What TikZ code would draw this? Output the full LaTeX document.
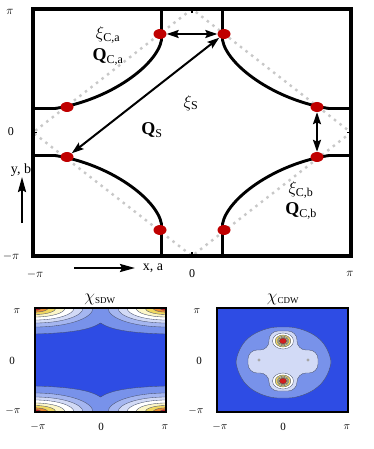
\documentclass[tikz,border=0pt]{standalone}
\usepackage{fontspec}
\setmainfont{Liberation Serif}
\usepackage{amsmath}
\usetikzlibrary{arrows.meta,shapes.geometric}
\definecolor{dotred}{RGB}{192,0,0}
\definecolor{diagray}{RGB}{200,200,200}
\definecolor{dkblue}{RGB}{46,76,228}
\definecolor{mdblue}{RGB}{120,146,234}
\definecolor{ltblue}{RGB}{165,182,240}
\definecolor{vlblue}{RGB}{210,218,246}
\definecolor{pyel}{RGB}{252,246,200}
\definecolor{yel}{RGB}{240,216,96}
\definecolor{ora}{RGB}{236,140,50}
\definecolor{cred}{RGB}{210,30,30}
\definecolor{cline}{RGB}{70,80,110}
\begin{document}
\begin{tikzpicture}[x=1pt,y=-1pt,
  frame/.style={line width=3.4pt},
  fsline/.style={line width=2.9pt},
  fsdot/.style={ellipse,fill=dotred,minimum width=13pt,minimum height=10pt,inner sep=0pt},
  arr/.style={line width=2pt,{Stealth[length=12pt,width=8pt,inset=2pt]}-{Stealth[length=12pt,width=8pt,inset=2pt]}},
  sarr/.style={line width=2.2pt,-{Stealth[length=15pt,width=8pt,inset=2pt]}},
  tick/.style={font=\fontsize{12}{14}\selectfont,inner sep=0pt},
  axl/.style={font=\fontsize{14}{16}\selectfont,inner sep=0pt},
  stick/.style={font=\fontsize{11}{13}\selectfont,inner sep=0pt},
  big/.style={font=\fontsize{18}{20}\selectfont,inner sep=0pt},
  pframe/.style={line width=1.4pt},
  cl/.style={draw=cline,line width=0.35pt}]
\useasboundingbox (0,0) rectangle (374,449);

% ---------- top panel ----------
\draw[diagray,line width=2.4pt,dash pattern=on 2.5pt off 4.5pt] (192,9) -- (33,132.5) -- (192,256) -- (351,132.5) -- cycle;
\draw[fsline] (33,108.5) -- (55,108.5) .. controls (110,100) and (157,65) .. (161.5,40) -- (161.5,9);
\draw[fsline] (351,108.5) -- (329,108.5) .. controls (274,100) and (227,65) .. (222.5,40) -- (222.5,9);
\draw[fsline] (33,155.5) -- (55,155.5) .. controls (110,164) and (157,199) .. (161.5,224) -- (161.5,256);
\draw[fsline] (351,155.5) -- (329,155.5) .. controls (274,164) and (227,199) .. (222.5,224) -- (222.5,256);
\draw[frame] (33,9) rectangle (351,256);
\foreach \a/\b/\c/\d in {192/9/192/13,192/256/192/252,33/132.5/37/132.5,351/132.5/347/132.5}
  \draw[line width=1.6pt] (\a,\b) -- (\c,\d);

\node[fsdot] (d1) at (160,34) {};
\node[fsdot] (d2) at (224,34) {};
\node[fsdot] (d3) at (67,107) {};
\node[fsdot] (d4) at (317,107) {};
\node[fsdot] (d5) at (67,157) {};
\node[fsdot] (d6) at (317,157) {};
\node[fsdot] (d7) at (160,230) {};
\node[fsdot] (d8) at (224,230) {};

\draw[arr] (d1) -- (d2);
\draw[arr] (d5) -- (d2);
\draw[arr] (d4) -- (d6);

\node[big] (xca) at (108,35) {$\xi_{\text{\fontsize{12}{13}\selectfont C,a}}$};
\node[big] (qca) at (108,57) {$\mathbf{Q}_{\text{\fontsize{12}{13}\selectfont C,a}}$};
\node[big] (xs) at (191,103) {$\xi_{\text{\fontsize{12}{13}\selectfont S}}$};
\node[big] (qs) at (152,130) {$\mathbf{Q}_{\text{\fontsize{12}{13}\selectfont S}}$};
\node[big] (xcb) at (301,190) {$\xi_{\text{\fontsize{12}{13}\selectfont C,b}}$};
\node[big] (qcb) at (301,211) {$\mathbf{Q}_{\text{\fontsize{12}{13}\selectfont C,b}}$};

\node[tick] (tp) at (10,12) {$\pi$};
\node[tick] (t0) at (11,132) {0};
\node[tick] (tmp) at (11,256) {$-\pi$};
\node[tick] (bmp) at (35,274) {$-\pi$};
\node[tick] (b0) at (192,274) {0};
\node[tick] (bp) at (350,274) {$\pi$};

\coordinate (ya) at (22,223);
\coordinate (yb) at (22,177);
\draw[sarr] (ya) -- (yb);
\node[axl] (yl) at (21,170) {y, b};
\coordinate (xa) at (74,268);
\coordinate (xb) at (135,268);
\draw[sarr] (xa) -- (xb);
\node[axl] (xl) at (153,268) {x, a};

% ---------- SDW panel ----------
\begin{scope}
\clip (35,308) rectangle (166,412);
\fill[mdblue] (35,308) rectangle (166,412);
\filldraw[fill=dkblue,cl] (35,334) .. controls (70,333) and (90,330) .. (100.5,323)
  .. controls (111,330) and (131,333) .. (166,334) -- (166,386)
  .. controls (131,387) and (111,390) .. (100.5,397)
  .. controls (90,390) and (70,387) .. (35,386) -- cycle;
\foreach \cx/\cy in {35/308,166/308,35/412,166/412} {
  \filldraw[fill=ltblue,cl] (\cx,\cy) ellipse [x radius=58, y radius=19];
  \filldraw[fill=vlblue,cl] (\cx,\cy) ellipse [x radius=48, y radius=15];
  \filldraw[fill=white,cl] (\cx,\cy) ellipse [x radius=39, y radius=12];
  \filldraw[fill=pyel,cl] (\cx,\cy) ellipse [x radius=30, y radius=9];
  \filldraw[fill=yel,cl] (\cx,\cy) ellipse [x radius=21, y radius=6.5];
  \filldraw[fill=ora,cl] (\cx,\cy) ellipse [x radius=13, y radius=4.2];
  \filldraw[fill=cred,cl] (\cx,\cy) ellipse [x radius=6.5, y radius=2.3];
}
\end{scope}
\draw[pframe] (35,308) rectangle (166,412);
\node[big] (tsdw) at (100,299) {$\chi_{\text{\fontsize{9}{10}\selectfont SDW}}$};
\node[stick] (sp) at (17,311) {$\pi$};
\node[stick] (s0) at (12,361) {0};
\node[stick] (smp) at (13,411) {$-\pi$};
\node[stick] (sbmp) at (38,427) {$-\pi$};
\node[stick] (sb0) at (101,427) {0};
\node[stick] (sbp) at (165,427) {$\pi$};

% ---------- CDW panel ----------
\begin{scope}
\clip (217,308) rectangle (348,412);
\fill[dkblue] (217,308) rectangle (348,412);
\filldraw[fill=mdblue,cl,rounded corners=16pt] (262,327) -- (304,327) -- (331,348) -- (331,376) -- (304,398) -- (262,398) -- (236,376) -- (236,348) -- cycle;
\filldraw[fill=vlblue,cl,rounded corners=9pt] (269,331) -- (297,331) -- (297,350) -- (318,350) -- (318,373) -- (297,373) -- (297,391) -- (269,391) -- (269,373) -- (248,373) -- (248,350) -- (269,350) -- cycle;
\fill[gray!70] (259,360) circle [radius=1.6];
\fill[gray!70] (308,360) circle [radius=1.6];
\foreach \cy in {341,381} {
  \filldraw[fill=white,cl] (283,\cy) ellipse [x radius=10.5, y radius=8];
  \filldraw[fill=yel,cl] (283,\cy) ellipse [x radius=7.8, y radius=6];
  \filldraw[fill=pyel,cl] (283,\cy) ellipse [x radius=6, y radius=4.6];
  \filldraw[fill=yel,cl] (283,\cy) ellipse [x radius=5, y radius=3.9];
  \filldraw[fill=cred,cl] (283,\cy) ellipse [x radius=3.7, y radius=3];
}
\end{scope}
\draw[pframe] (217,308) rectangle (348,412);
\node[big] (tcdw) at (283,299) {$\chi_{\text{\fontsize{9}{10}\selectfont CDW}}$};
\node[stick] (cp) at (197,311) {$\pi$};
\node[stick] (c0) at (199,361) {0};
\node[stick] (cmp) at (196,411) {$-\pi$};
\node[stick] (cbmp) at (220,427) {$-\pi$};
\node[stick] (cb0) at (283,427) {0};
\node[stick] (cbp) at (347,427) {$\pi$};
\end{tikzpicture}
\end{document}
